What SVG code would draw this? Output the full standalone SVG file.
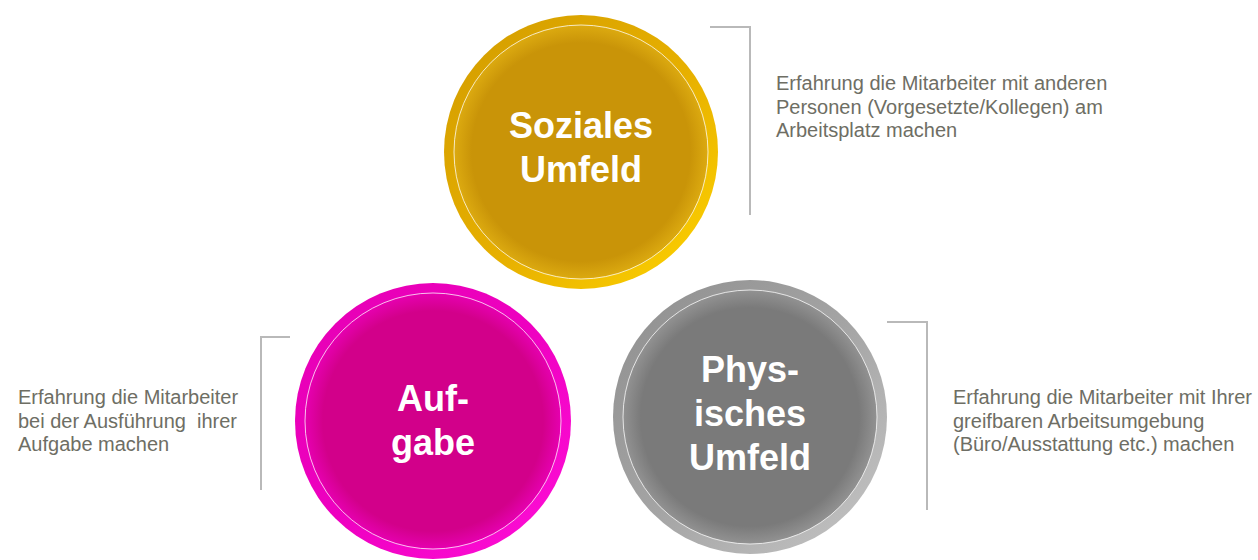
<svg xmlns="http://www.w3.org/2000/svg" width="1258" height="560" viewBox="0 0 1258 560">
  <defs>
    <style>
      .label { font-family: "Liberation Sans", Arial, sans-serif; font-weight: bold; font-size: 36px; fill: #ffffff; text-anchor: middle; }
      .note { font-family: "Liberation Sans", Arial, sans-serif; font-size: 20px; fill: #6e6e64; white-space: pre; }
      .bracket { fill: none; stroke: #b9b9b9; stroke-width: 2; }
      .rim { fill: none; stroke: #ffffff; stroke-width: 1; stroke-opacity: 0.75; }
    </style>
    <!-- gold -->
    <linearGradient id="ringGold" x1="0" y1="0" x2="1" y2="1">
      <stop offset="0" stop-color="#d29c00"/>
      <stop offset="0.55" stop-color="#e7b000"/>
      <stop offset="1" stop-color="#ffd400"/>
    </linearGradient>
    <radialGradient id="discGold" cx="0.5" cy="0.5" r="0.5">
      <stop offset="0" stop-color="#c99408"/>
      <stop offset="0.86" stop-color="#c99408"/>
      <stop offset="1" stop-color="#dcaa10"/>
    </radialGradient>
    <!-- magenta -->
    <linearGradient id="ringPink" x1="0" y1="0" x2="1" y2="1">
      <stop offset="0" stop-color="#e600b4"/>
      <stop offset="0.5" stop-color="#ee00c0"/>
      <stop offset="1" stop-color="#ff10d8"/>
    </linearGradient>
    <radialGradient id="discPink" cx="0.5" cy="0.5" r="0.5">
      <stop offset="0" stop-color="#d2008a"/>
      <stop offset="0.86" stop-color="#d2008a"/>
      <stop offset="1" stop-color="#e600b0"/>
    </radialGradient>
    <!-- grey -->
    <linearGradient id="ringGrey" x1="0" y1="0" x2="1" y2="1">
      <stop offset="0" stop-color="#8e8e8e"/>
      <stop offset="0.5" stop-color="#a4a4a4"/>
      <stop offset="1" stop-color="#c6c6c6"/>
    </linearGradient>
    <radialGradient id="discGrey" cx="0.5" cy="0.5" r="0.5">
      <stop offset="0" stop-color="#7a7a7a"/>
      <stop offset="0.86" stop-color="#7a7a7a"/>
      <stop offset="1" stop-color="#929292"/>
    </radialGradient>
  </defs>

  <!-- callout brackets -->
  <g id="connectors">
    <polyline class="bracket" points="710,27 750,27 750,215"/>
    <polyline class="bracket" points="290,337 261,337 261,490"/>
    <polyline class="bracket" points="887,322 927,322 927,510"/>
  </g>

  <g id="node-aufgabe">
    <circle cx="433" cy="421" r="138" fill="url(#ringPink)"/>
    <circle cx="433" cy="421" r="128" fill="url(#discPink)"/>
    <circle class="rim" cx="433" cy="421" r="128"/>
    <text class="label" x="433" y="411">Auf-</text>
    <text class="label" x="433" y="455">gabe</text>
  </g>

  <g id="node-physisches-umfeld">
    <circle cx="750" cy="417" r="137" fill="url(#ringGrey)"/>
    <circle cx="750" cy="417" r="127" fill="url(#discGrey)"/>
    <circle class="rim" cx="750" cy="417" r="127"/>
    <text class="label" x="750" y="382">Phys-</text>
    <text class="label" x="750" y="426">isches</text>
    <text class="label" x="750" y="470">Umfeld</text>
  </g>

  <g id="node-soziales-umfeld">
    <circle cx="581" cy="152" r="137" fill="url(#ringGold)"/>
    <circle cx="581" cy="152" r="127" fill="url(#discGold)"/>
    <circle class="rim" cx="581" cy="152" r="127"/>
    <text class="label" x="581" y="138">Soziales</text>
    <text class="label" x="581" y="182">Umfeld</text>
  </g>

  <g id="note-soziales">
    <text class="note" x="776" y="90">Erfahrung die Mitarbeiter mit anderen</text>
    <text class="note" x="776" y="113.5">Personen (Vorgesetzte/Kollegen) am</text>
    <text class="note" x="776" y="137">Arbeitsplatz machen</text>
  </g>

  <g id="note-aufgabe">
    <text class="note" x="18" y="404">Erfahrung die Mitarbeiter</text>
    <text class="note" x="18" y="427.5">bei der Ausführung  ihrer</text>
    <text class="note" x="18" y="451">Aufgabe machen</text>
  </g>

  <g id="note-physisches">
    <text class="note" x="953" y="404">Erfahrung die Mitarbeiter mit Ihrer</text>
    <text class="note" x="953" y="427.5">greifbaren Arbeitsumgebung</text>
    <text class="note" x="953" y="451">(Büro/Ausstattung etc.) machen</text>
  </g>
</svg>
